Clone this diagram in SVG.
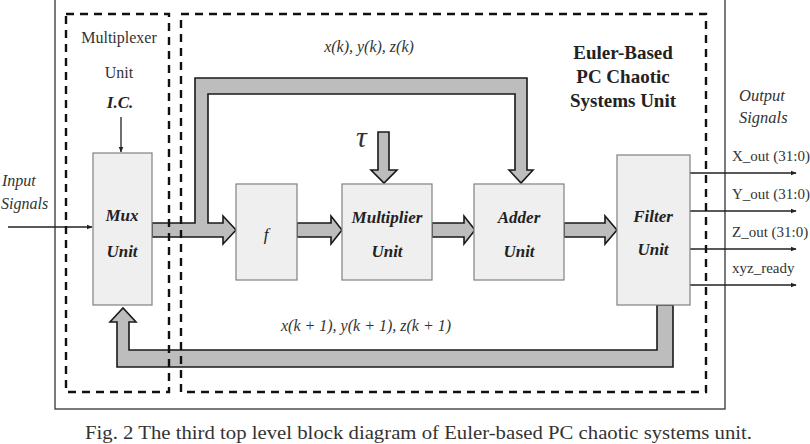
<svg xmlns="http://www.w3.org/2000/svg" width="810" height="444" viewBox="0 0 810 444">
<defs>
<style>
.box{fill:#efefef;stroke:#808080;stroke-width:1.2}
.fat{fill:#bdbdbd;stroke:#1a1a1a;stroke-width:1.6;stroke-linejoin:miter}
.dash{fill:none;stroke:#111;stroke-width:2.4;stroke-dasharray:8 6}
.thin{fill:none;stroke:#222;stroke-width:1.3}
.lbl{font-family:"Liberation Serif",serif;font-weight:bold;font-style:italic;font-size:17px;fill:#222;text-anchor:middle}
.it{font-family:"Liberation Serif",serif;font-style:italic;fill:#333}
.rm{font-family:"Liberation Serif",serif;fill:#333}
.eb{font-family:"Liberation Serif",serif;font-weight:bold;font-size:19px;fill:#222;text-anchor:middle}
</style>
<marker id="ah" viewBox="0 0 10 10" refX="9" refY="5" markerWidth="6" markerHeight="6" orient="auto" markerUnits="userSpaceOnUse">
<path d="M0,1 L10,5 L0,9 Z" fill="#222"/>
</marker>
</defs>
<rect width="810" height="444" fill="#fff"/>
<rect id="frame" x="55" y="-5" width="670" height="414" fill="none" stroke="#333" stroke-width="1.3"/>

<g id="connectors">
<path class="fat" d="M152,223 L195,223 L195,78 L527,78 L527,170 L533,170 L521,183 L509,170 L515,170 L515,94 L208,94 L208,223 L223,223 L223,216 L236,230 L223,244 L223,237 L152,237 Z"/>
<path class="fat" d="M297,223 L331,223 L331,216 L342,230 L331,244 L331,237 L297,237 Z"/>
<path class="fat" d="M432,223 L464,223 L464,216 L475,230 L464,244 L464,237 L432,237 Z"/>
<path class="fat" d="M564,223 L605,223 L605,216 L617,230 L605,244 L605,237 L564,237 Z"/>
<path class="fat" d="M378,132 L389,132 L389,170 L397,170 L384,183 L371,170 L378,170 Z"/>
<path class="fat" d="M657,305 L657,350 L129,350 L129,322 L136,322 L123,308 L110,322 L117,322 L117,367 L673,367 L673,305 Z"/>
<line class="thin" x1="8" y1="227" x2="92" y2="227" marker-end="url(#ah)"/>
<line class="thin" x1="121" y1="117" x2="121" y2="152" marker-end="url(#ah)"/>
<line class="thin" x1="690" y1="173" x2="796" y2="173" marker-end="url(#ah)"/>
<line class="thin" x1="690" y1="211" x2="796" y2="211" marker-end="url(#ah)"/>
<line class="thin" x1="690" y1="249" x2="796" y2="249" marker-end="url(#ah)"/>
<line class="thin" x1="690" y1="285" x2="796" y2="285" marker-end="url(#ah)"/>
</g>

<g id="mux">
<rect class="box" x="93" y="153" width="59" height="152"/>
<text class="lbl" x="122" y="221">Mux</text>
<text class="lbl" x="122" y="257">Unit</text>
</g>
<g id="f">
<rect class="box" x="236" y="184" width="61" height="96"/>
<text class="lbl" x="266" y="240" style="font-weight:normal">f</text>
</g>
<g id="multiplier">
<rect class="box" x="342" y="184" width="90" height="96"/>
<text class="lbl" x="387" y="223">Multiplier</text>
<text class="lbl" x="387" y="257">Unit</text>
</g>
<g id="adder">
<rect class="box" x="474" y="184" width="90" height="96"/>
<text class="lbl" x="519" y="223">Adder</text>
<text class="lbl" x="519" y="257">Unit</text>
</g>
<g id="filter">
<rect class="box" x="617" y="155" width="73" height="150"/>
<text class="lbl" x="653" y="222">Filter</text>
<text class="lbl" x="653" y="255">Unit</text>
</g>

<g id="multiplexer-unit">
<rect class="dash" x="66" y="14" width="103" height="378"/>
<text class="rm" x="119" y="43" font-size="16" text-anchor="middle">Multiplexer</text>
<text class="rm" x="119" y="78" font-size="16" text-anchor="middle">Unit</text>
<text class="lbl" x="120" y="108" font-size="16">I.C.</text>
</g>
<g id="euler-unit">
<rect class="dash" x="181" y="14" width="525" height="378"/>
<text class="eb" x="623" y="59">Euler-Based</text>
<text class="eb" x="623" y="83">PC Chaotic</text>
<text class="eb" x="623" y="107">Systems Unit</text>
</g>

<g id="labels">
<text class="it" x="2" y="186" font-size="16">Input</text>
<text class="it" x="1" y="209" font-size="16">Signals</text>
<text class="it" x="739" y="101" font-size="16.5">Output</text>
<text class="it" x="739" y="123" font-size="16.5">Signals</text>
<text class="it" x="369" y="52" font-size="16" text-anchor="middle">x(k), y(k), z(k)</text>
<text class="it" x="356" y="147" font-size="30">τ</text>
<text class="it" x="366" y="331" font-size="16" text-anchor="middle">x(k + 1), y(k + 1), z(k + 1)</text>
<text class="rm" x="732" y="161" font-size="15">X_out (31:0)</text>
<text class="rm" x="732" y="199" font-size="15">Y_out (31:0)</text>
<text class="rm" x="732" y="237" font-size="15">Z_out (31:0)</text>
<text class="rm" x="732" y="273" font-size="15">xyz_ready</text>
<text class="rm" x="85" y="439" font-size="19" textLength="667" lengthAdjust="spacingAndGlyphs" fill="#111">Fig. 2 The third top level block diagram of Euler-based PC chaotic systems unit.</text>
</g>
</svg>
